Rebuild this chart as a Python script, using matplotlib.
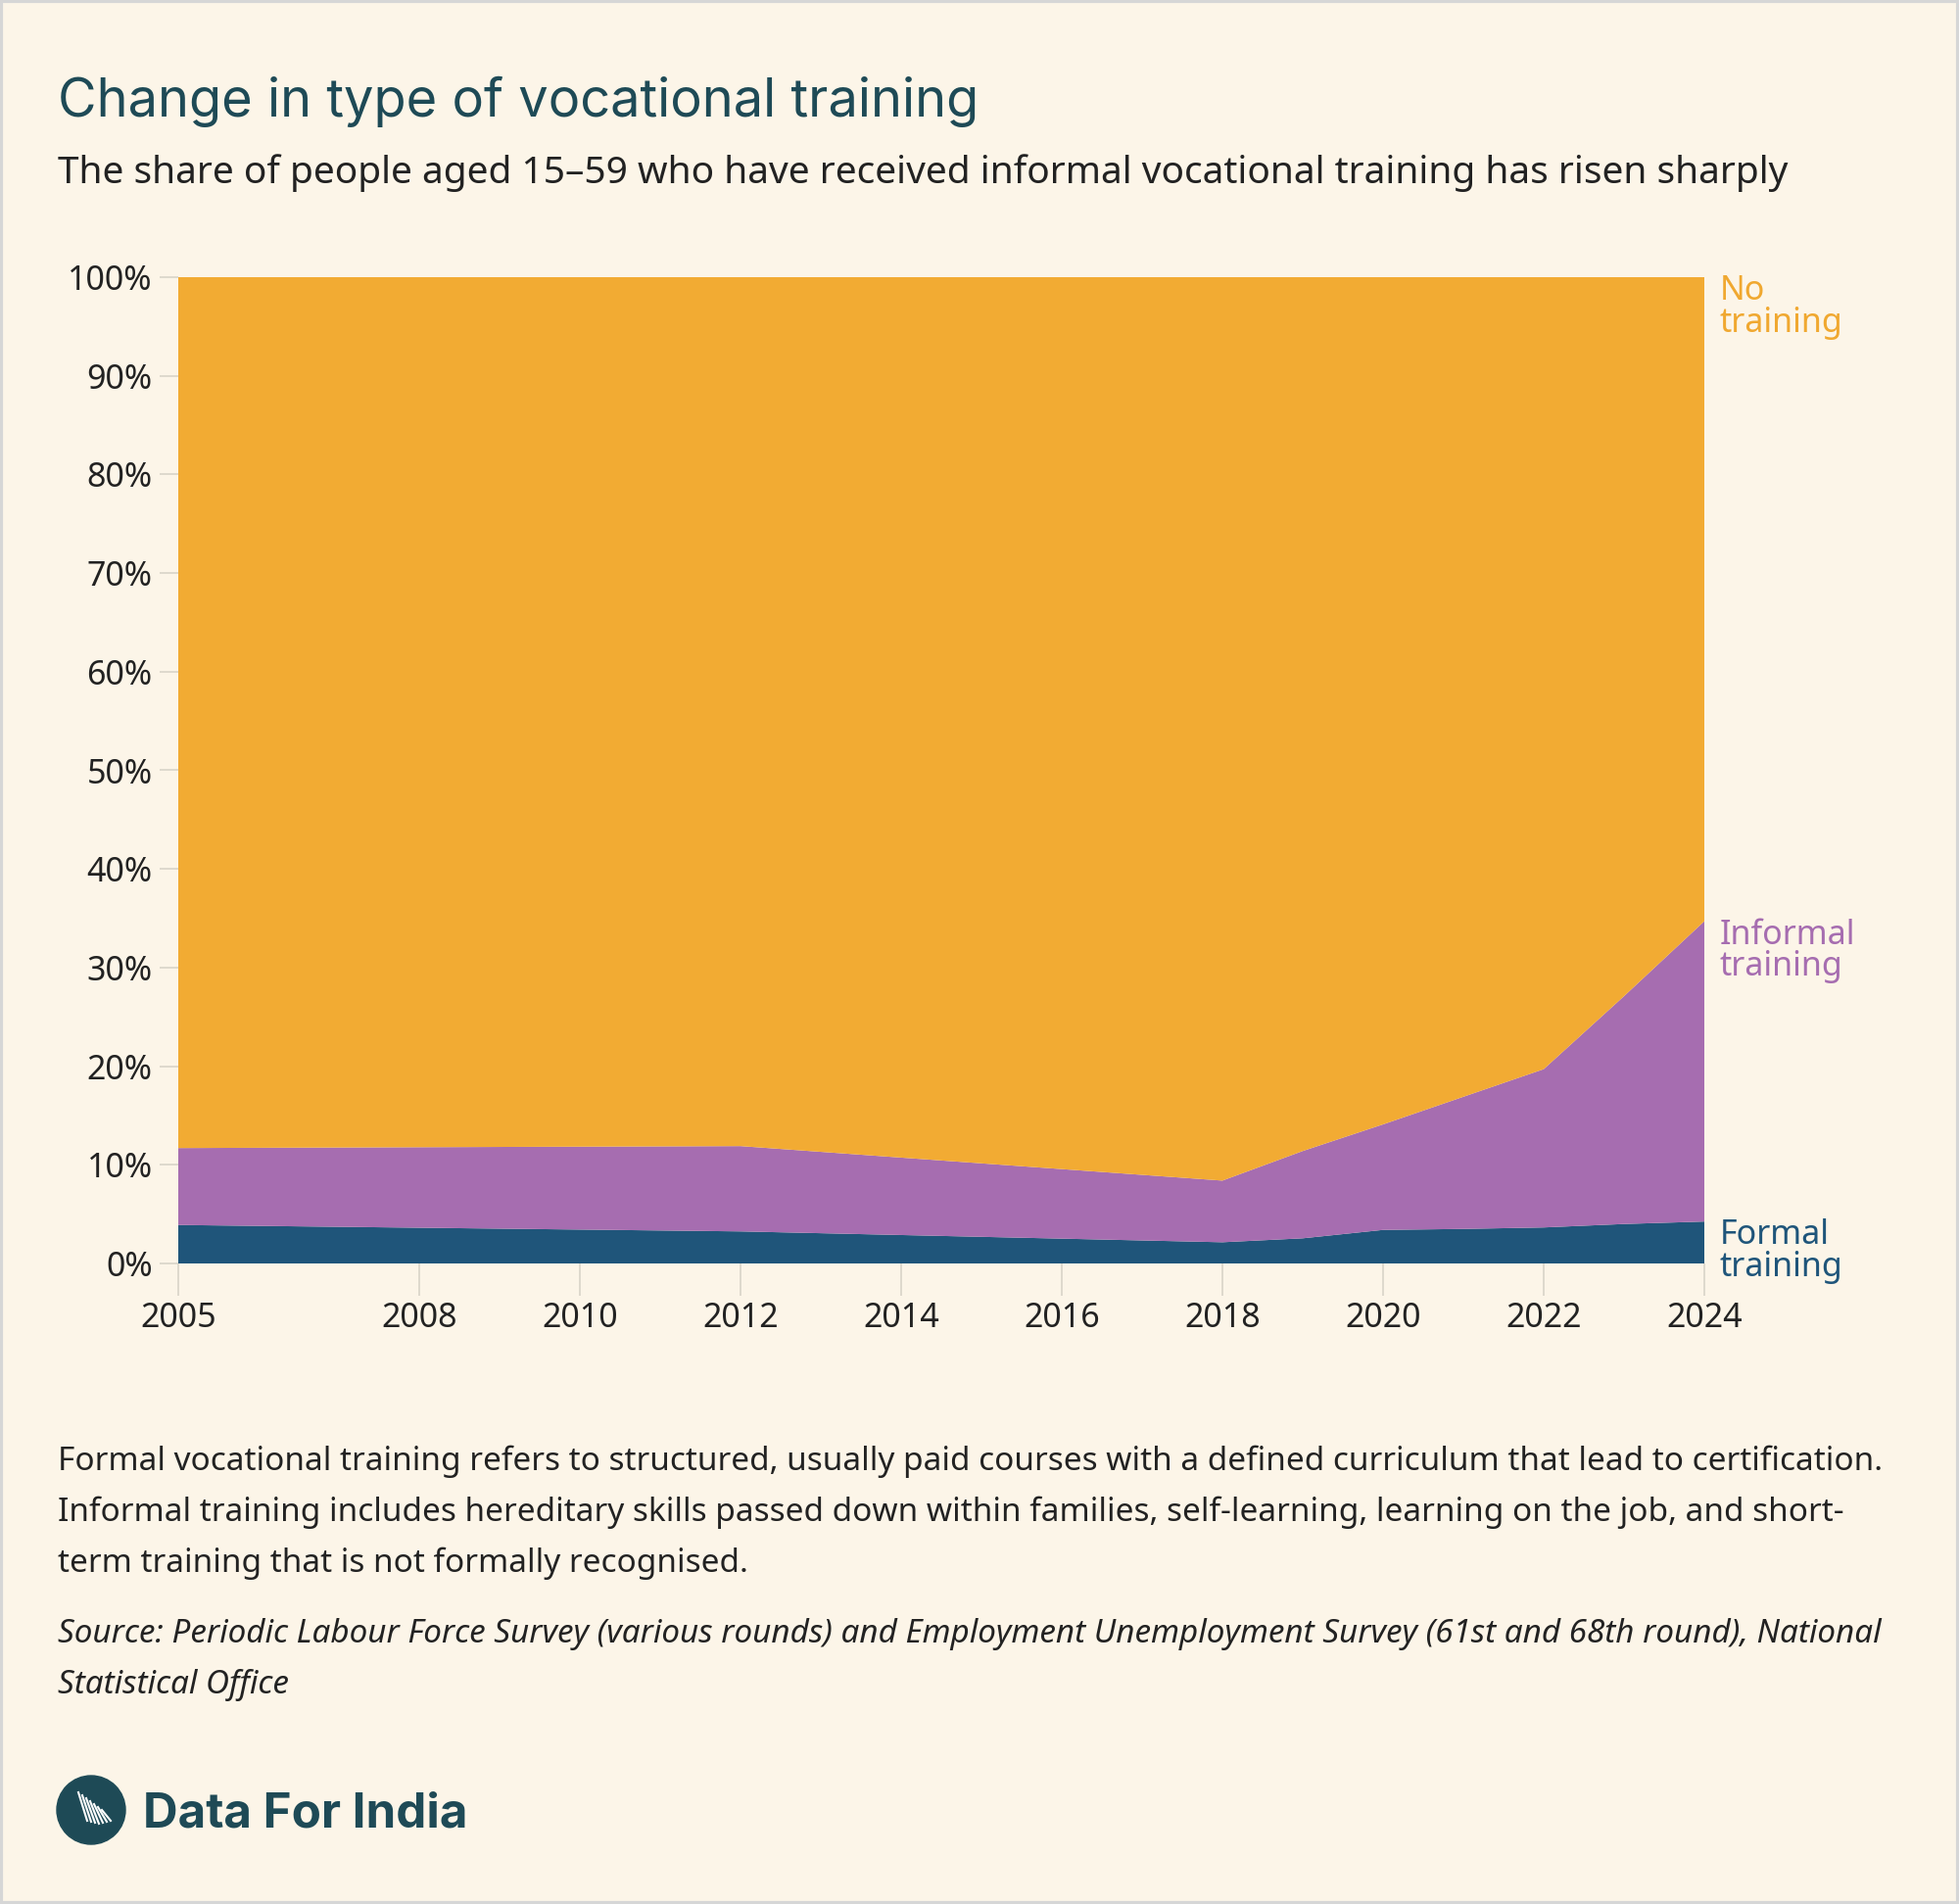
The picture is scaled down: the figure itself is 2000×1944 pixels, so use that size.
import matplotlib.pyplot as plt
import matplotlib.patches as mpatches
import numpy as np

# survey years (EUS 61st/68th round, PLFS rounds)
years = [2005, 2012, 2018, 2019, 2020, 2021, 2022, 2023, 2024]
formal = [3.9, 3.25, 2.15, 2.55, 3.4, 3.5, 3.65, 4.0, 4.25]
informal = [7.8, 8.65, 6.25, 8.85, 10.7, 13.4, 16.05, 23.1, 30.45]
tick_years = [2005, 2008, 2010, 2012, 2014, 2016, 2018, 2020, 2022, 2024]
y_ticks = [0, 10, 20, 30, 40, 50, 60, 70, 80, 90, 100]

BG = '#FCF5E8'
ORANGE = '#F2AB33'
PURPLE = '#A66DB0'
BLUE = '#1F557A'
TEAL = '#1E4A56'
TEXT = '#222222'

W, H = 2000, 1944
LabelSize = 24.5


def fx(px):
    return px / W


def fy(py):
    return 1 - py / H


plt.rcParams['font.family'] = ['Noto Sans', 'DejaVu Sans']

fig = plt.figure(figsize=(W / 100, H / 100), dpi=100, facecolor=BG)
ax = fig.add_axes([fx(182), fy(1290), fx(1740) - fx(182), fy(283) - fy(1290)])
ax.set_facecolor(BG)

formal_a = np.array(formal)
informal_a = np.array(informal)
total = formal_a + informal_a
none = 100 - total

ax.stackplot(years, formal_a, informal_a, none,
             colors=[BLUE, PURPLE, ORANGE], linewidth=0)

ax.set_xlim(2005, 2024)
ax.set_ylim(0, 100)
ax.set_xticks(tick_years)
ax.set_xticklabels([str(y) for y in tick_years])
ax.set_yticks(y_ticks)
ax.set_yticklabels([f'{v}%' for v in y_ticks])
for s in ax.spines.values():
    s.set_visible(False)
ax.tick_params(axis='x', length=24, width=1.2, color='#D9D4C8', pad=4,
               labelsize=LabelSize, labelcolor=TEXT)
ax.tick_params(axis='y', length=14, width=1.2, color='#D9D4C8', pad=5,
               labelsize=LabelSize, labelcolor=TEXT)

# end labels
ax.annotate('No\ntraining', xy=(2024, 100), xytext=(11, 2), textcoords='offset points',
            va='top', ha='left', fontsize=LabelSize, color='#F0A830', linespacing=0.95)
ax.annotate('Informal\ntraining', xy=(2024, total[-1]), xytext=(11, 2),
            textcoords='offset points', va='top', ha='left', fontsize=LabelSize,
            color=PURPLE, linespacing=0.95)
ax.annotate('Formal\ntraining', xy=(2024, formal[-1]), xytext=(11, 2),
            textcoords='offset points', va='top', ha='left', fontsize=LabelSize,
            color=BLUE, linespacing=0.95)

# header
fig.text(fx(59), fy(119), 'Change in type of vocational training', fontsize=39,
         color=TEAL, family=['Inter', 'DejaVu Sans'], va='baseline')
fig.text(fx(59), fy(187),
         'The share of people aged 15\u201359 who have received informal vocational training has risen sharply',
         fontsize=28, color=TEXT, va='baseline')

# notes
notes = ['Formal vocational training refers to structured, usually paid courses with a defined curriculum that lead to certification.',
         'Informal training includes hereditary skills passed down within families, self-learning, learning on the job, and short-',
         'term training that is not formally recognised.']
for i, line in enumerate(notes):
    fig.text(fx(59), fy(1501 + i * 52), line, fontsize=24.0, color=TEXT, va='baseline')

source = ['Source: Periodic Labour Force Survey (various rounds) and Employment Unemployment Survey (61st and 68th round), National',
          'Statistical Office']
for i, line in enumerate(source):
    fig.text(fx(59), fy(1677 + i * 52), line, fontsize=23.9, color=TEXT,
             style='italic', va='baseline')

# logo
lax = fig.add_axes([0, 0, 1, 1], facecolor='none')
lax.set_xlim(0, W)
lax.set_ylim(H, 0)
lax.axis('off')
lax.add_patch(mpatches.Circle((93, 1848), 35, color=TEAL))
for k in range(7):
    x0 = 80 + k * 4
    lax.plot([x0, x0 + 9], [1830 + k * 3, 1862 - abs(k - 3)], color='white', lw=1.5)
fig.text(fx(146), fy(1865), 'Data For India', fontsize=35.5, color=TEAL,
         weight='bold', family=['Inter', 'DejaVu Sans'], va='baseline')

# thin border round the picture
lax.add_patch(mpatches.Rectangle((1, 1), W - 2, H - 2, fill=False, ec='#D6D6D6', lw=3))

fig.savefig('out.png', dpi=100, facecolor=BG)
